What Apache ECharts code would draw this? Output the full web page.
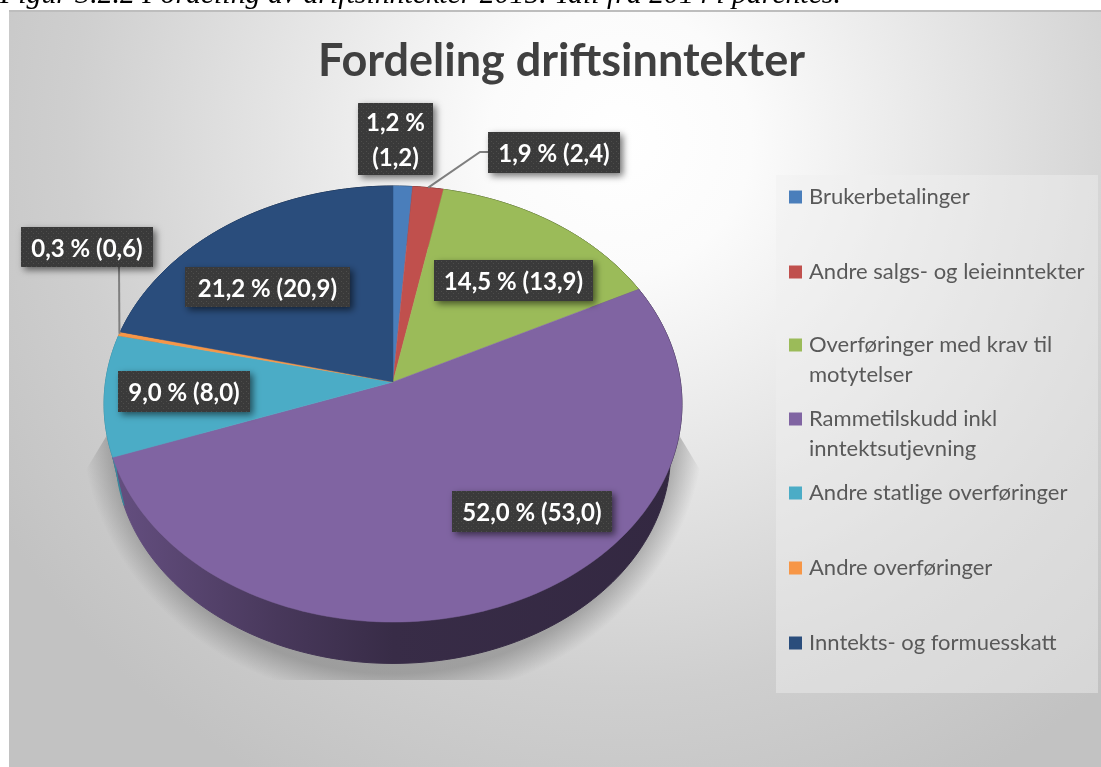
<!DOCTYPE html>
<html>
<head>
<meta charset="utf-8">
<script src="https://cdn.jsdelivr.net/npm/echarts@6/dist/echarts.min.js"></script>
<style>html,body{margin:0;padding:0;background:#fff;overflow:hidden}#c{width:1101px;height:767px}#c canvas{filter:blur(0.5px)}</style>
</head>
<body>
<div id="c"></div>
<script>
const categories = ['Brukerbetalinger','Andre salgs- og leieinntekter','Overføringer med krav til\nmotytelser','Rammetilskudd inkl\ninntektsutjevning','Andre statlige overføringer','Andre overføringer','Inntekts- og formuesskatt'];
const share2015 = [1.2,1.9,14.5,52.0,9.0,0.3,21.2];
const share2014 = [1.2,2.4,13.9,53.0,8.0,0.6,20.9];
const colors = ['#4a7ebb','#c0504d','#9bbb59','#8064a2','#4bacc6','#f79646','#2a4d7c'];

// layout (not data)
const labelBoxes = [[358,103,433,175],[488,132,620,173],[434,260,593,301],[452,491,612,532],[118,371,250,412],[21,227,153,267],[185,267,350,307]];
const leaderElbows = {1:[[480,152],[488,152]],5:[[119,267]]};
const legendY = [197,272,345,419,493,568,643];
const P = {cx:393,cy:382,R:287.5,S:215.8,k:0.101,depthScale:0.96,depth:51};
const LABEL_SIZE = 24;
const LEGEND_SIZE = 22;

const total = share2015.reduce((a,b)=>a+b,0);
const project = (deg,f,d)=>{
  const t = deg*Math.PI/180, a = Math.sin(t), b = -Math.cos(t), w = 1-P.k*b;
  return [P.cx+f*P.R*a/w, P.cy+f*P.S*b/w+d];
};
const arc = (a0,a1,f,d)=>{
  const n = Math.max(2,Math.ceil((a1-a0)/1.5)), pts=[];
  for(let i=0;i<=n;i++) pts.push(project(a0+(a1-a0)*i/n,f,d));
  return pts;
};
const dots = document.createElement('canvas');
dots.width = dots.height = 5;
(function(){
  const g = dots.getContext('2d');
  g.fillStyle='#3a3a3a'; g.fillRect(0,0,5,5);
  g.fillStyle='#4d4d4b'; g.fillRect(1,1,1,1); g.fillRect(3,3,1,1);
})();
const shade = (hex,f)=>{
  const n=parseInt(hex.slice(1),16);
  return 'rgb('+[n>>16,(n>>8)&255,n&255].map(c=>Math.round(c*f)).join(',')+')';
};
const fmt = v=>v.toFixed(1).replace('.',',');
const labelText = i=>{
  const a = fmt(share2015[i])+' %', b='('+fmt(share2014[i])+')';
  return (labelBoxes[i][3]-labelBoxes[i][1]>50) ? a+'\n'+b : a+' '+b;
};
const startAngle = i=>share2015.slice(0,i).reduce((a,b)=>a+b,0)/total*360;

function sliceRender(i){
  return function(){
    const a0 = startAngle(i), a1 = startAngle(i+1), c = colors[i];
    const top = arc(a0,a1,1,0), bottom = arc(a0,a1,P.depthScale,P.depth).reverse();
    const wallFill = {type:'linear',global:true,x:P.cx-P.R,y:0,x2:P.cx+P.R,y2:0,colorStops:[
      {offset:0,color:shade(c,0.80)},{offset:0.3,color:shade(c,0.56)},{offset:0.5,color:shade(c,0.44)},{offset:1,color:shade(c,0.40)}]};
    const mid = project((a0+a1)/2,1,0);
    const b = labelBoxes[i];
    const children = [
      {type:'polygon',z2:1,shape:{points:top.concat(bottom)},style:{fill:wallFill,stroke:wallFill,lineWidth:1}},
      {type:'polygon',z2:2,shape:{points:[[P.cx,P.cy]].concat(top)},style:{fill:c,stroke:c,lineWidth:0.5}}
    ];
    if(leaderElbows[i]){
      children.push({type:'polyline',z2:3,shape:{points:[mid].concat(leaderElbows[i])},style:{fill:'none',stroke:'#7f7f7f',lineWidth:2}});
    }
    children.push({type:'rect',z2:4,shape:{x:b[0],y:b[1],width:b[2]-b[0],height:b[3]-b[1]},
      style:{fill:{image:dots,repeat:'repeat'},shadowBlur:7,shadowOffsetX:3,shadowOffsetY:3,shadowColor:'rgba(0,0,0,0.55)'}});
    children.push({type:'text',z2:5,style:{text:labelText(i),x:(b[0]+b[2])/2,y:(b[1]+b[3])/2+2,align:'center',verticalAlign:'middle',
      fill:'#ffffff',fontFamily:'Lato',fontWeight:'bold',fontSize:LABEL_SIZE,lineHeight:35}});
    return {type:'group',children};
  };
}

const series = categories.map((n,i)=>({
  type:'custom',name:n,coordinateSystem:'none',silent:true,animation:false,
  itemStyle:{color:colors[i]},
  data:[{name:n,value:[share2015[i],share2014[i]]}],
  renderItem:sliceRender(i)
}));

const legends = categories.map((n,i)=>({
  show:true,left:789,top:legendY[i]-12,padding:0,selectedMode:false,icon:'rect',itemWidth:13,itemHeight:13,
  data:[n],formatter:v=>v.split('\n')[0],
  textStyle:{fontFamily:'Lato',fontSize:LEGEND_SIZE,color:'#595959',padding:[0,0,0,2],height:24,lineHeight:24}
}));

const secondLines = categories.map((n,i)=>n.includes('\n')?{
  type:'text',z:5,style:{text:n.split('\n')[1],x:809,y:legendY[i]+30,verticalAlign:'middle',fontFamily:'Lato',fontSize:LEGEND_SIZE,fill:'#595959'}
}:null).filter(Boolean);

// soft floor shadow beneath the pie: elliptical falloff, cut flat at the floor line
const SH = {cx:393,cy:420,rx:312,ry:282,floor:680,top:470};
const shadowPts = (function(){
  const sy = SH.ry/SH.rx, left=[], right=[];
  for(let y=SH.top;y<=SH.floor;y+=6){
    const dx = SH.rx*Math.sqrt(Math.max(0,1-Math.pow((y-SH.cy)/SH.ry,2)));
    const ly = SH.cy+(y-SH.cy)/sy;
    left.push([SH.cx-dx,ly]); right.unshift([SH.cx+dx,ly]);
  }
  return [[SH.cx-285,SH.cy+15]].concat(left,right,[[SH.cx+285,SH.cy+15]]);
})();

const option = {
  backgroundColor:'#ffffff',
  animation:false,
  title:[
    {text:'Fordeling driftsinntekter',left:318,top:39,padding:0,
     textStyle:{fontFamily:'Lato',fontWeight:'bold',fontSize:45,color:'#404040'}},
    {text:'Figur 3.2.2 Fordeling av driftsinntekter 2015. Tall fra 2014 i parentes.',left:0,top:-20,padding:0,
     textStyle:{fontFamily:'Liberation Serif',fontStyle:'italic',fontWeight:'normal',fontSize:29.8,color:'#000000'}}
  ],
  legend:legends,
  graphic:[
    {type:'rect',z:-3,shape:{x:9,y:11,width:1092,height:756},style:{fill:{type:'radial',global:true,x:620,y:140,r:730,colorStops:[
      {offset:0,color:'#ffffff'},{offset:0.18,color:'#fbfbfb'},{offset:0.45,color:'#e6e6e6'},{offset:0.75,color:'#cfcfcf'},{offset:1,color:'#c2c2c2'}]}}},
    {type:'rect',z:-2,shape:{x:9,y:10,width:1092,height:2},style:{fill:'#bdbdbd'}},
    {type:'polygon',z:-1,originX:SH.cx,originY:SH.cy,scaleY:SH.ry/SH.rx,shape:{points:shadowPts},
     style:{fill:{type:'radial',global:true,x:SH.cx,y:SH.cy,r:SH.rx,colorStops:[
      {offset:0,color:'rgba(120,120,120,0.55)'},{offset:0.9,color:'rgba(120,120,120,0.55)'},{offset:1,color:'rgba(120,120,120,0)'}]}}},
    {type:'rect',z:-1,shape:{x:776,y:175,width:322,height:518},style:{fill:'rgba(240,240,240,0.45)'}}
  ].concat(secondLines),
  series
};
const chart = echarts.init(document.getElementById('c'),null,{renderer:'canvas'});
chart.setOption(option);
</script>
</body>
</html>
